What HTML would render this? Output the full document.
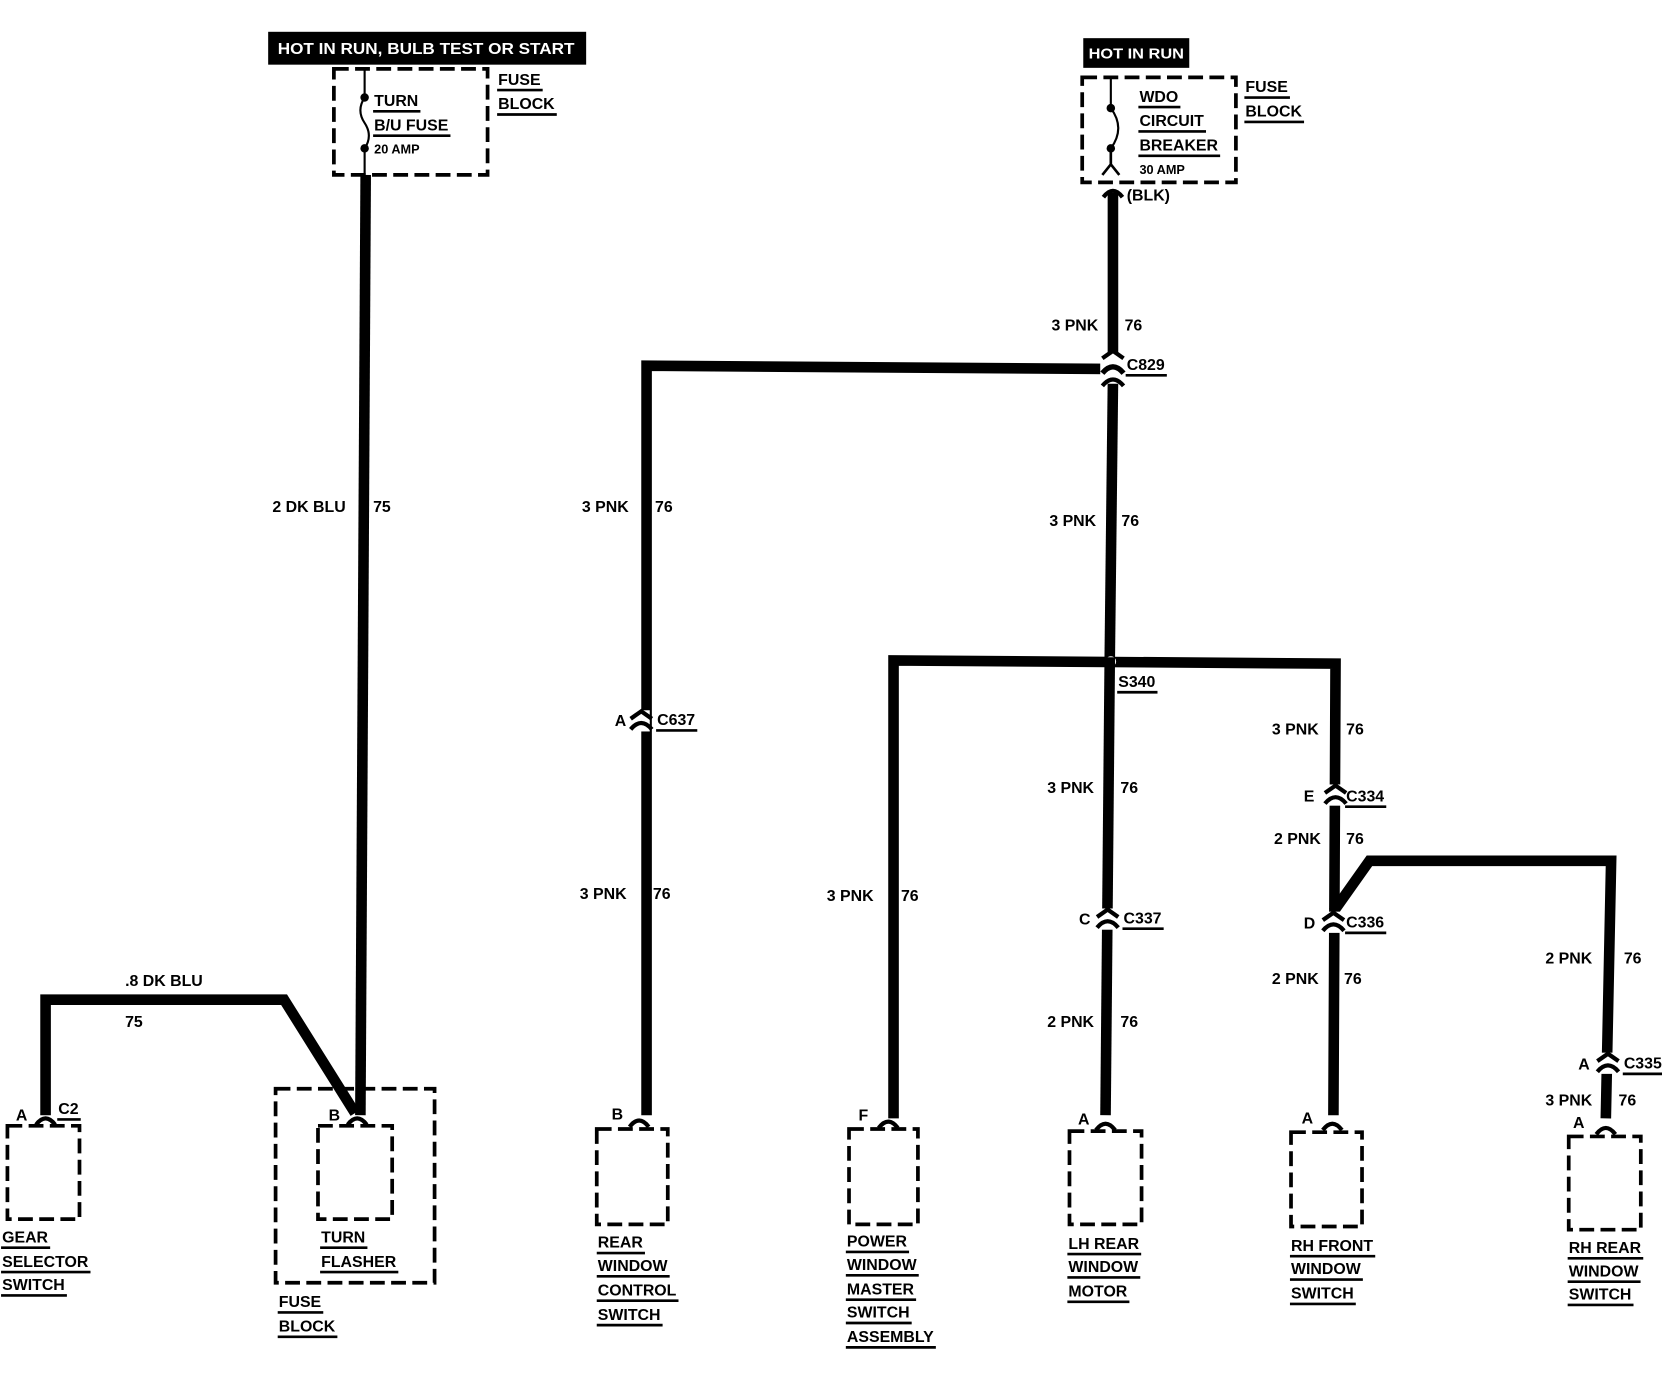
<!DOCTYPE html>
<html><head><meta charset="utf-8"><style>
html,body{margin:0;padding:0;background:#fff;width:1662px;height:1376px;overflow:hidden}
svg{display:block}
text{font-family:"Liberation Sans",sans-serif;font-weight:bold;fill:#000}
</style></head><body>
<svg id="s" width="1662" height="1376" viewBox="0 0 1568 1298" preserveAspectRatio="none" xmlns="http://www.w3.org/2000/svg">
<rect x="253" y="30" width="300" height="31" fill="#000"/>
<text x="262" y="51" font-size="15" textLength="280" lengthAdjust="spacingAndGlyphs" style="fill:#fff">HOT IN RUN, BULB TEST OR START</text>
<rect x="1022" y="36" width="100" height="28" fill="#000"/>
<text x="1027" y="55" font-size="14" textLength="90" lengthAdjust="spacingAndGlyphs" style="fill:#fff">HOT IN RUN</text>
</svg>
<script>
var s=document.getElementById('s'),NS='http://www.w3.org/2000/svg';
function el(t,a){var e=document.createElementNS(NS,t);for(var k in a)e.setAttribute(k,a[k]);s.appendChild(e);return e;}
function T(x,y,t,u,fs){fs=fs||15;var e=el('text',{x:x,y:y,'font-size':fs});e.textContent=t;
 if(u){var w;try{w=e.getComputedTextLength();}catch(er){w=t.length*fs*0.62;}
 el('line',{x1:x-1,y1:y+5,x2:x+w+2,y2:y+5,stroke:'#000','stroke-width':2.5});}}
function W(pts){el('polyline',{points:pts,fill:'none',stroke:'#000','stroke-width':10,'stroke-linejoin':'miter'});}
function D(x1,y1,x2,y2){el('rect',{x:x1,y:y1,width:x2-x1,height:y2-y1,fill:'none',stroke:'#000','stroke-width':3.5,'stroke-dasharray':'14 6'});}
function pin(x,y){el('path',{d:'M'+(x-9)+' '+(y+6)+' Q'+x+' '+(y-6)+' '+(x+9)+' '+(y+6),fill:'none',stroke:'#000','stroke-width':4});}
function conn(x,y){el('rect',{x:x-8,y:y-10,width:16,height:20,fill:'#fff'});
 el('path',{d:'M'+(x-10)+' '+(y-2)+' L'+x+' '+(y-9)+' L'+(x+10)+' '+(y-2),fill:'none',stroke:'#000','stroke-width':4});
 el('path',{d:'M'+(x-10)+' '+(y+8)+' Q'+x+' '+(y-4)+' '+(x+10)+' '+(y+8),fill:'none',stroke:'#000','stroke-width':4});}
D(315,65,460,165);
el('line',{x1:344,y1:65,x2:344,y2:92,stroke:'#000','stroke-width':2});
el('circle',{cx:344,cy:92,r:4});el('circle',{cx:344,cy:140,r:4});
el('path',{d:'M344 92 Q336 104 344 116 Q352 128 344 140',fill:'none',stroke:'#000','stroke-width':2});
el('line',{x1:344,y1:140,x2:344,y2:165,stroke:'#000','stroke-width':2});
T(353,100,'TURN',1);T(353,123,'B/U FUSE',1);T(353,145,'20 AMP',0,12);
T(470,80,'FUSE',1);T(470,103,'BLOCK',1);
W('345,165 340,1052');
T(257,483,'2 DK BLU');T(352,483,'75');
W('43,1052 43,943 268,943 335,1050');
T(118,930,'.8 DK BLU');T(118,969,'75');
pin(43,1055);pin(337,1055);
T(15,1057,'A');T(55,1051,'C2',1);
D(7,1062,75,1150);T(2,1172,'GEAR',1);T(2,1195,'SELECTOR',1);T(2,1217,'SWITCH',1);
D(260,1027,410,1210);D(300,1062,370,1150);T(310,1057,'B');
T(303,1172,'TURN',1);T(303,1195,'FLASHER',1);T(263,1233,'FUSE',1);T(263,1256,'BLOCK',1);
D(1021,73,1166,172);
el('line',{x1:1048,y1:73,x2:1048,y2:102,stroke:'#000','stroke-width':2});
el('circle',{cx:1048,cy:102,r:4});el('circle',{cx:1048,cy:140,r:4});
el('path',{d:'M1048 102 Q1062 121 1048 140',fill:'none',stroke:'#000','stroke-width':2});
el('path',{d:'M1048 140 L1048 155 M1040 165 L1048 155 L1056 165',fill:'none',stroke:'#000','stroke-width':2.5});
T(1075,96,'WDO',1);T(1075,119,'CIRCUIT',1);T(1075,142,'BREAKER',1);T(1075,164,'30 AMP',0,12);
T(1175,87,'FUSE',1);T(1175,110,'BLOCK',1);T(1063,189,'(BLK)');
W('1050,182 1050,335');
el('path',{d:'M1041 186 Q1050 174 1059 186',fill:'none',stroke:'#000','stroke-width':4});
T(992,312,'3 PNK');T(1061,312,'76');
W('610,1052 610,345 1045,348');
W('1050,360 1047,620');
el('rect',{x:1038,y:332,width:22,height:30,fill:'#fff'});
el('path',{d:'M1040 338 L1050 331 L1060 338',fill:'none',stroke:'#000','stroke-width':4});
el('path',{d:'M1040 352 Q1050 340 1060 352',fill:'none',stroke:'#000','stroke-width':5});
el('path',{d:'M1040 364 Q1050 352 1060 364',fill:'none',stroke:'#000','stroke-width':4});
T(1063,349,'C829',1);
T(990,496,'3 PNK');T(1058,496,'76');
W('843,1055 843,623 1260,626 1258,1052');
el('circle',{cx:1048,cy:624,r:5,fill:'#fff'});
T(1055,648,'S340',1);
W('1047,620 1043,1052');
T(549,483,'3 PNK');T(618,483,'76');
conn(605,680);T(580,685,'A');T(620,684,'C637',1);
T(547,848,'3 PNK');T(616,848,'76');
pin(603,1057);T(577,1056,'B');D(563,1065,630,1155);
T(564,1177,'REAR',1);T(564,1199,'WINDOW',1);T(564,1222,'CONTROL',1);T(564,1245,'SWITCH',1);
T(780,850,'3 PNK');T(850,850,'76');
pin(838,1058);T(810,1057,'F');D(801,1065,866,1155);
T(799,1176,'POWER',1);T(799,1198,'WINDOW',1);T(799,1221,'MASTER',1);T(799,1243,'SWITCH',1);T(799,1266,'ASSEMBLY',1);
T(988,748,'3 PNK');T(1057,748,'76');
conn(1045,867);T(1018,872,'C');T(1060,871,'C337',1);
T(988,969,'2 PNK');T(1057,969,'76');
pin(1043,1060);T(1017,1061,'A');D(1009,1067,1077,1155);
T(1008,1178,'LH REAR',1);T(1008,1200,'WINDOW',1);T(1008,1223,'MOTOR',1);
T(1200,693,'3 PNK');T(1270,693,'76');
conn(1260,750);T(1230,756,'E');T(1270,756,'C334',1);
T(1202,796,'2 PNK');T(1270,796,'76');
W('1258,860 1292,812 1520,812 1515,1055');
conn(1258,870);T(1230,876,'D');T(1270,875,'C336',1);
T(1200,928,'2 PNK');T(1268,928,'76');
pin(1257,1060);T(1228,1060,'A');D(1218,1068,1285,1157);
T(1218,1180,'RH FRONT',1);T(1218,1202,'WINDOW',1);T(1218,1225,'SWITCH',1);
T(1458,909,'2 PNK');T(1532,909,'76');
conn(1517,1003);T(1489,1009,'A');T(1532,1008,'C335',1);
T(1458,1043,'3 PNK');T(1527,1043,'76');
pin(1515,1064);T(1484,1064,'A');D(1480,1072,1548,1160);
T(1480,1182,'RH REAR',1);T(1480,1204,'WINDOW',1);T(1480,1226,'SWITCH',1);
</script>
</body></html>
